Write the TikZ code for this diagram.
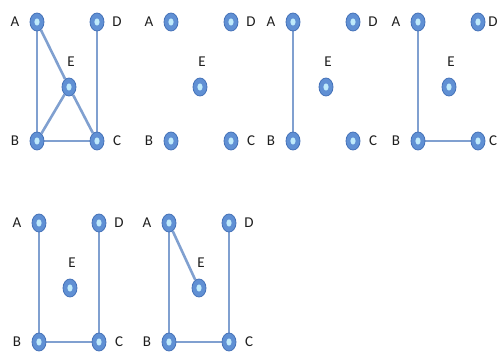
\documentclass[tikz,border=0pt]{standalone}
\usepackage{fontspec}
\setmainfont{Carlito}
\usetikzlibrary{shapes.geometric,backgrounds}
\definecolor{ringblue}{RGB}{96,144,212}
\definecolor{ringdark}{RGB}{70,115,185}
\definecolor{edgeblue}{RGB}{128,160,208}
\definecolor{labelgray}{RGB}{30,30,30}
\tikzset{
  vtx/.style={ellipse, minimum width=14pt, minimum height=18pt, inner sep=0pt,
    fill=ringblue, draw=ringdark, line width=0.8pt,
    path picture={\fill[white!75!cyan] (path picture bounding box.center) ellipse (2.6pt and 3.6pt);}},
  lbl/.style={font=\fontsize{15}{15}\selectfont, text=labelgray, inner sep=0pt},
  edg/.style={draw=edgeblue, line width=2.6pt}
}
\newcommand\mypanel[5]{% prefix, x of A, y of A, x of E offset, right label offset
  \node[vtx] (#1A) at (#2,#3) {};
  \node[vtx] (#1D) at (#2+60,#3) {};
  \node[vtx] (#1B) at (#2,#3+119) {};
  \node[vtx] (#1C) at (#2+60,#3+119) {};
  \node[vtx] (#1E) at (#2+#4,#3+65) {};
  \node[lbl] (#1a) at (#2-22,#3) {A};
  \node[lbl] (#1d) at (#2+#5,#3) {D};
  \node[lbl] (#1b) at (#2-22,#3+119) {B};
  \node[lbl] (#1c) at (#2+#5,#3+119) {C};
  \node[lbl] (#1e) at (#2+#4+2,#3+40) {E};
}
\begin{document}
\begin{tikzpicture}[x=1pt,y=-1pt]
\useasboundingbox (0,0) rectangle (501,354);
\mypanel{p}{37}{22}{32}{80}
\mypanel{q}{171}{22}{29}{80}
\mypanel{r}{293}{22}{33}{80}
\mypanel{s}{418}{22}{31}{75}
\mypanel{t}{39}{223}{31}{80}
\mypanel{u}{169}{223}{30}{80}
\begin{pgfonlayer}{background}
\draw[edg] (pA) -- (pB);
\draw[edg] (pA) -- (pE);
\draw[edg] (pE) -- (pB);
\draw[edg] (pE) -- (pC);
\draw[edg] (pB) -- (pC);
\draw[edg] (pD) -- (pC);
\draw[edg] (rA) -- (rB);
\draw[edg] (sA) -- (sB);
\draw[edg] (sB) -- (sC);
\draw[edg] (tA) -- (tB);
\draw[edg] (tD) -- (tC);
\draw[edg] (tB) -- (tC);
\draw[edg] (uA) -- (uB);
\draw[edg] (uA) -- (uE);
\draw[edg] (uD) -- (uC);
\draw[edg] (uB) -- (uC);
\end{pgfonlayer}
\end{tikzpicture}
\end{document}
